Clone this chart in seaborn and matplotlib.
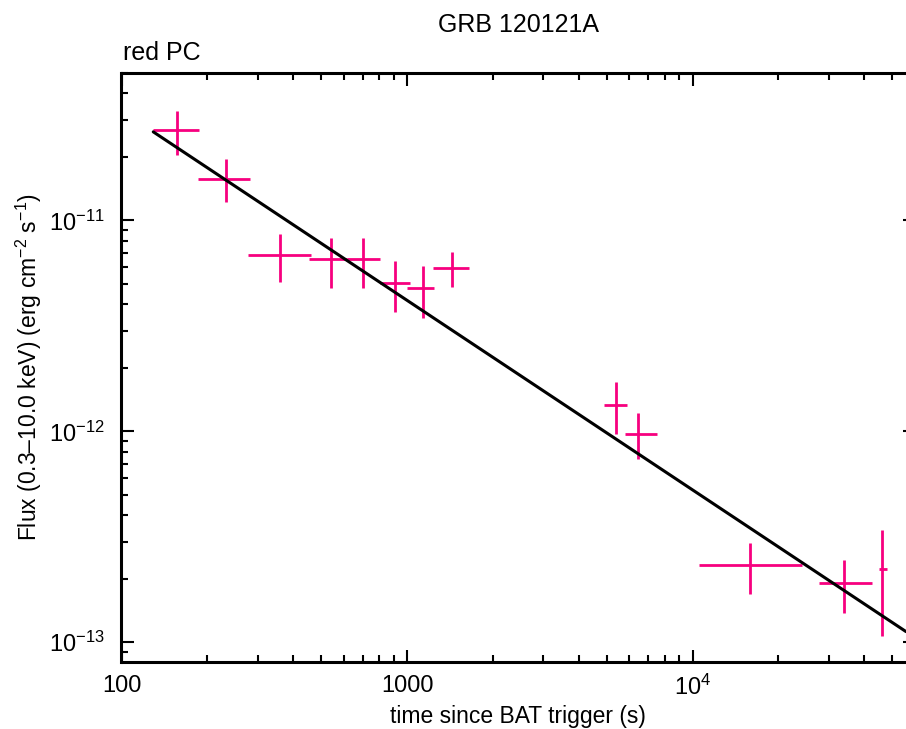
import matplotlib
matplotlib.use("Agg")
import matplotlib.pyplot as plt
import matplotlib.ticker as mticker
import numpy as np
import pandas as pd
import seaborn as sns

# XRT PC-mode light curve of GRB 120121A
time_s = [156, 232, 360, 542, 703, 910, 1141, 1441, 5395, 6460, 15940, 34020, 46220]
time_lo = [129, 185, 277, 455, 615, 804, 1002, 1230, 4898, 5788, 10563, 27670, 45110]
time_hi = [187, 282, 460, 615, 804, 1024, 1246, 1653, 5883, 7510, 24250, 42430, 48120]
flux = [2.69e-11, 1.577e-11, 6.88e-12, 6.56e-12, 6.56e-12, 5.05e-12, 4.76e-12,
        5.94e-12, 1.336e-12, 9.76e-13, 2.326e-13, 1.905e-13, 2.22e-13]
flux_lo = [2.04e-11, 1.22e-11, 5.08e-12, 4.76e-12, 4.76e-12, 3.66e-12, 3.44e-12,
           4.83e-12, 9.70e-13, 7.38e-13, 1.695e-13, 1.373e-13, 1.071e-13]
flux_hi = [3.32e-11, 1.955e-11, 8.65e-12, 8.28e-12, 8.28e-12, 6.44e-12, 6.10e-12,
           7.08e-12, 1.712e-12, 1.22e-12, 2.97e-13, 2.457e-13, 3.41e-13]

# power-law fit, end points
fit_time = [129.2, 55950]
fit_flux = [2.63e-11, 1.123e-13]

xtick_values = [100, 1000, 10000]
xtick_labels = ["100", "1000", "$10^{4}$"]
ytick_values = [1e-13, 1e-12, 1e-11]
ytick_labels = ["$10^{-13}$", "$10^{-12}$", "$10^{-11}$"]

PINK = "#f7007f"

sns.set_style("ticks")
plt.rcParams["font.family"] = ["Liberation Sans", "DejaVu Sans"]
plt.rcParams["mathtext.fontset"] = "custom"
plt.rcParams["mathtext.rm"] = "Liberation Sans"
plt.rcParams["mathtext.it"] = "Liberation Sans"
plt.rcParams["mathtext.default"] = "regular"
for key in ["text.color", "axes.labelcolor", "xtick.color", "ytick.color", "axes.edgecolor"]:
    plt.rcParams[key] = "black"

df = pd.DataFrame({"t": time_s, "f": flux})
fit_df = pd.DataFrame({"t": fit_time, "f": fit_flux})

fig = plt.figure(figsize=(9.06, 7.29), dpi=100)
ax = fig.add_axes([121.5 / 906, 1 - 662 / 729, (914.7 - 121.5) / 906, (662 - 73) / 729])

xerr = [np.array(time_s) - np.array(time_lo), np.array(time_hi) - np.array(time_s)]
yerr = [np.array(flux) - np.array(flux_lo), np.array(flux_hi) - np.array(flux)]
ax.errorbar(df["t"], df["f"], xerr=xerr, yerr=yerr, fmt="none",
            ecolor=PINK, elinewidth=2.0, capsize=0, zorder=2)
sns.lineplot(data=fit_df, x="t", y="f", ax=ax, color="black", lw=2.2, zorder=3)

ax.set_xscale("log")
ax.set_yscale("log")
ax.set_xlim(100, 6e4)
ax.set_ylim(8.06e-14, 5.0e-11)

ax.xaxis.set_major_locator(mticker.FixedLocator(xtick_values))
ax.xaxis.set_major_formatter(mticker.FixedFormatter(xtick_labels))
ax.yaxis.set_major_locator(mticker.FixedLocator(ytick_values))
ax.yaxis.set_major_formatter(mticker.FixedFormatter(ytick_labels))
ax.xaxis.set_minor_locator(mticker.LogLocator(base=10, subs=np.arange(2, 10), numticks=20))
ax.yaxis.set_minor_locator(mticker.LogLocator(base=10, subs=np.arange(2, 10), numticks=20))
ax.xaxis.set_minor_formatter(mticker.NullFormatter())
ax.yaxis.set_minor_formatter(mticker.NullFormatter())

ax.tick_params(which="both", direction="in", top=True, right=True, width=1.5,
               labelsize=17, colors="black")
ax.tick_params(which="major", length=9)
ax.tick_params(which="minor", length=5)
ax.tick_params(axis="x", pad=9)
ax.tick_params(axis="y", pad=12)
for sp in ax.spines.values():
    sp.set_linewidth(2.2)
    sp.set_color("black")

ax.set_xlabel("time since BAT trigger (s)", fontsize=16.5, labelpad=4)
ax.set_ylabel("Flux (0.3\u201310.0 keV) (erg cm$^{-2}$ s$^{-1}$)", fontsize=16.5, labelpad=4)

fig.text(519 / 906, 1 - 32 / 729, "GRB 120121A", ha="center", va="baseline", fontsize=18)
fig.text(122.7 / 906, 1 - 59.5 / 729, "red PC", ha="left", va="baseline", fontsize=18)

fig.savefig("out.png", dpi=100)
